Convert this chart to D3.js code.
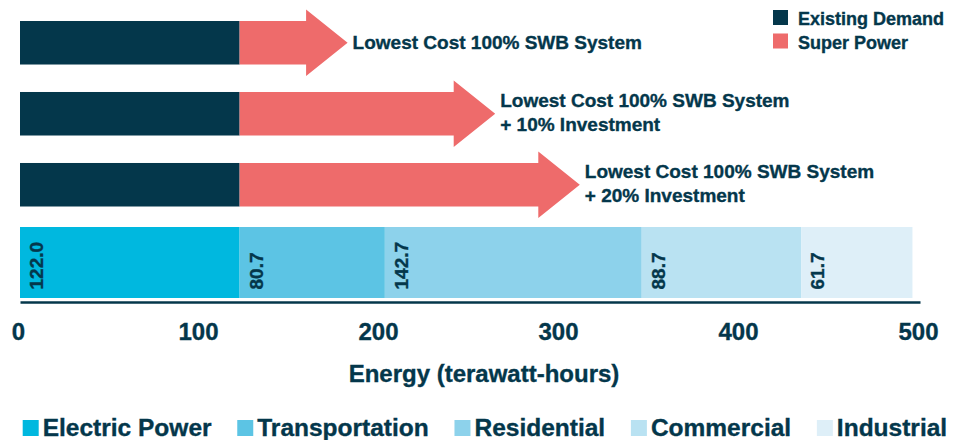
<!DOCTYPE html>
<html>
<head>
<meta charset="utf-8">
<script src="https://cdn.jsdelivr.net/npm/d3@7/dist/d3.min.js"></script>
<style>
  html, body { margin: 0; padding: 0; background: #ffffff; }
  svg { display: block; font-family: "Liberation Sans", Arial, Helvetica, sans-serif; font-weight: bold; }
  svg text { stroke: #04374b; stroke-width: 0.35px; }
</style>
</head>
<body>
<svg id="chart" width="970" height="440"></svg>
<script>
// Scenario rows: existing demand plus the added "Super Power" (TWh)
const scenarioLabels = [
  ["Lowest Cost 100% SWB System"],
  ["Lowest Cost 100% SWB System", "+ 10% Investment"],
  ["Lowest Cost 100% SWB System", "+ 20% Investment"]
];
const existingDemand = [122.0, 122.0, 122.0];
const superPower = [60, 142, 189];

// Potential demand by sector (TWh)
const sectors = ["Electric Power", "Transportation", "Residential", "Commercial", "Industrial"];
const sectorValues = [122.0, 80.7, 142.7, 88.7, 61.7];

const xTicks = [0, 100, 200, 300, 400, 500];
const seriesNames = ["Existing Demand", "Super Power"];

const navy = "#04374b";
const coral = "#ee6b6b";
const sectorColors = ["#00b8df", "#5cc4e4", "#8dd2eb", "#b9e2f2", "#deeff8"];

const svg = d3.select("#chart");

const x = d3.scaleLinear().domain([0, 500]).range([20, 920]);
const y = d3.scaleBand()
  .domain(d3.range(scenarioLabels.length))
  .range([6.8, 220.7])
  .paddingInner(0.387)
  .paddingOuter(0.2);

const bw = y.bandwidth();
const headLen = 41.5;
const headHalf = 33.3;

// Scenario rows
const rows = svg.append("g").selectAll("g")
  .data(d3.range(scenarioLabels.length))
  .join("g");

rows.append("rect")
  .attr("x", x(0))
  .attr("y", i => y(i))
  .attr("width", i => x(existingDemand[i]) - x(0))
  .attr("height", bw)
  .attr("fill", navy);

rows.append("path")
  .attr("fill", coral)
  .attr("d", i => {
    const x0 = x(existingDemand[i]);
    const tip = x(existingDemand[i] + superPower[i]);
    const hx = tip - headLen;
    const cy = y(i) + bw / 2;
    const half = bw / 2;
    return `M${x0},${cy - half}H${hx}V${cy - headHalf}L${tip},${cy}L${hx},${cy + headHalf}V${cy + half}H${x0}Z`;
  });

rows.append("text")
  .attr("fill", navy)
  .attr("font-size", 19)
  .each(function (i) {
    const lines = scenarioLabels[i];
    const tip = x(existingDemand[i] + superPower[i]);
    const cy = y(i) + bw / 2;
    const t = d3.select(this);
    const first = lines.length === 1 ? cy + 6 : cy - 6.5;
    lines.forEach((ln, k) => {
      t.append("tspan")
        .attr("x", tip + 5)
        .attr("y", first + k * 23.8)
        .text(ln);
    });
  });

// Stacked sector bar
let acc = 0;
const stacked = sectorValues.map((v, i) => {
  const s = { name: sectors[i], v: v, x0: acc, x1: acc + v, color: sectorColors[i] };
  acc += v;
  return s;
});

const barY = 227, barH = 71;
const seg = svg.append("g").selectAll("g").data(stacked).join("g");
seg.append("rect")
  .attr("x", d => x(d.x0))
  .attr("y", barY)
  .attr("width", d => x(d.x1) - x(d.x0))
  .attr("height", barH)
  .attr("fill", d => d.color);
seg.append("text")
  .attr("transform", d => `translate(${x(d.x0) + 23},${barY + barH - 8.5}) rotate(-90)`)
  .attr("text-anchor", "start")
  .attr("font-size", 19)
  .attr("fill", navy)
  .text(d => d.v.toFixed(1));

// X axis
const axis = svg.append("g")
  .attr("transform", "translate(0,302)")
  .call(d3.axisBottom(x).tickValues(xTicks).tickSize(0).tickSizeOuter(0).tickPadding(21).tickFormat(d3.format("d")));
axis.select(".domain").attr("stroke", navy).attr("stroke-width", 2.5);
axis.selectAll(".tick text")
  .attr("font-family", "'Liberation Sans', Arial, Helvetica, sans-serif")
  .attr("font-weight", "bold")
  .attr("font-size", 24)
  .attr("fill", navy)
  .attr("dx", -2);

svg.append("text")
  .attr("x", 484)
  .attr("y", 382)
  .attr("text-anchor", "middle")
  .attr("font-size", 24)
  .attr("fill", navy)
  .text("Energy (terawatt-hours)");

// Series legend (top right)
const legTop = svg.append("g").selectAll("g").data(seriesNames).join("g")
  .attr("transform", (d, i) => `translate(773,${10 + i * 23.5})`);
legTop.append("rect").attr("width", 15).attr("height", 15)
  .attr("fill", (d, i) => i === 0 ? navy : coral);
legTop.append("text").attr("x", 25).attr("y", 15)
  .attr("font-size", 18).attr("fill", navy).text(d => d);

// Sector legend (bottom)
const legBottom = svg.append("g");
let lx = 22.7;
sectors.forEach((name, i) => {
  const g = legBottom.append("g").attr("transform", `translate(${lx},420)`);
  g.append("rect").attr("width", 16).attr("height", 16).attr("fill", sectorColors[i]);
  const t = g.append("text").attr("x", 20).attr("y", 15.7)
    .attr("font-size", 24.5).attr("fill", navy).text(name);
  lx += 20 + t.node().getComputedTextLength() + 25.7;
});
</script>
</body>
</html>
